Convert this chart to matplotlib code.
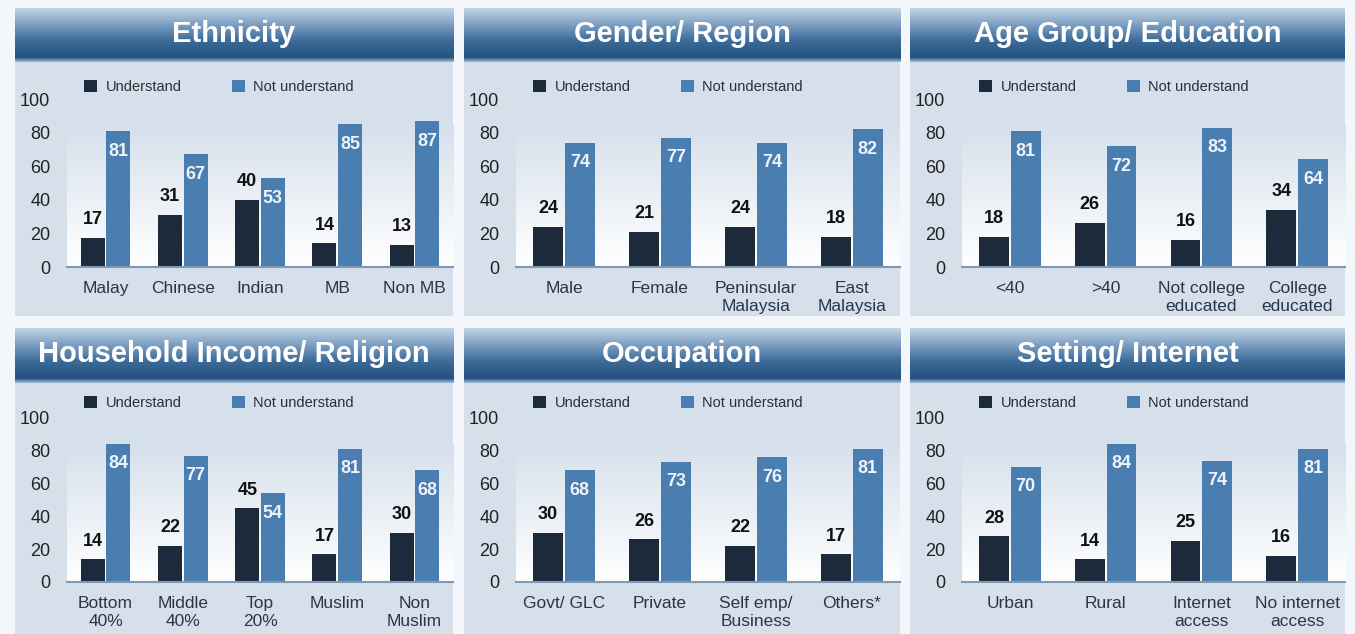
import numpy as np
import matplotlib.pyplot as plt
from matplotlib.patches import Rectangle
from matplotlib.colors import LinearSegmentedColormap

plt.rcParams['font.family'] = ['Liberation Sans', 'DejaVu Sans']

# data
titles = ["Ethnicity", "Gender/ Region", "Age Group/ Education",
          "Household Income/ Religion", "Occupation", "Setting/ Internet"]

eth_cats = ["Malay", "Chinese", "Indian", "MB", "Non MB"]
eth_under = [17, 31, 40, 14, 13]
eth_not = [81, 67, 53, 85, 87]

gen_cats = ["Male", "Female", "Peninsular\nMalaysia", "East\nMalaysia"]
gen_under = [24, 21, 24, 18]
gen_not = [74, 77, 74, 82]

age_cats = ["<40", ">40", "Not college\neducated", "College\neducated"]
age_under = [18, 26, 16, 34]
age_not = [81, 72, 83, 64]

inc_cats = ["Bottom\n40%", "Middle\n40%", "Top\n20%", "Muslim", "Non\nMuslim"]
inc_under = [14, 22, 45, 17, 30]
inc_not = [84, 77, 54, 81, 68]

occ_cats = ["Govt/ GLC", "Private", "Self emp/\nBusiness", "Others*"]
occ_under = [30, 26, 22, 17]
occ_not = [68, 73, 76, 81]

set_cats = ["Urban", "Rural", "Internet\naccess", "No internet\naccess"]
set_under = [28, 14, 25, 16]
set_not = [70, 84, 74, 81]

panels = [
    (eth_cats, eth_under, eth_not),
    (gen_cats, gen_under, gen_not),
    (age_cats, age_under, age_not),
    (inc_cats, inc_under, inc_not),
    (occ_cats, occ_under, occ_not),
    (set_cats, set_under, set_not),
]

W, H = 1355, 634
fig = plt.figure(figsize=(W / 100, H / 100), dpi=100)
fig.patch.set_facecolor('#f3f6fb')


def rect(x0, y0, x1, y1):
    # pixel box (top-left origin) -> figure fraction
    return [x0 / W, 1 - y1 / H, (x1 - x0) / W, (y1 - y0) / H]


dark = '#1c2a3c'
light = '#4a7db0'
panel_bg = '#d6e0eb'

banner_cmap = LinearSegmentedColormap.from_list(
    'banner', [(0, '#c4d4e5'), (0.3, '#7d9fc2'), (0.6, '#3d6c9a'),
               (0.92, '#24517e'), (1.0, '#9fbad6')])
area_cmap = LinearSegmentedColormap.from_list('area', ['#ffffff', panel_bg])

cols = [(15, 453), (464, 900), (910, 1345)]
# panel top, panel bottom, banner bottom, legend y, y for 100, y for 0
rows = [(8, 316, 62, 87, 99, 267), (328, 640, 383, 403, 418, 582)]

for i, (cats, under, notu) in enumerate(panels):
    x0, x1 = cols[i % 3]
    top, bottom, bbot, leg_y, y100, y0 = rows[i // 3]

    fig.add_artist(Rectangle((x0 / W, 1 - bottom / H), (x1 - x0) / W, (bottom - top) / H,
                             transform=fig.transFigure, facecolor=panel_bg,
                             edgecolor='none', zorder=0))

    # title banner
    bax = fig.add_axes(rect(x0, top, x1, bbot))
    grad = np.linspace(0, 1, 100).reshape(-1, 1)
    bax.imshow(grad, aspect='auto', cmap=banner_cmap, extent=(0, 1, 1, 0))
    bax.set_axis_off()
    bax.text(0.5, 0.52, titles[i], ha='center', va='center', color='white',
             fontsize=21, fontweight='bold', transform=bax.transAxes)

    # bar chart
    ax = fig.add_axes(rect(x0 + 52, y100, x1, y0))
    ax.set_facecolor('none')
    x = np.arange(len(cats))
    ax.set_xlim(-0.5, len(cats) - 0.5)
    ax.set_ylim(0, 100)
    ax.imshow(np.linspace(0, 1, 100).reshape(-1, 1), aspect='auto', cmap=area_cmap,
              origin='lower', extent=(-0.5, len(cats) - 0.5, 0, 84), zorder=0)

    w = 0.31
    b1 = ax.bar(x - 0.165, under, w, color=dark, label='Understand', zorder=2)
    b2 = ax.bar(x + 0.165, notu, w, color=light, label='Not understand', zorder=2)
    for xi, u, n in zip(x, under, notu):
        ax.text(xi - 0.165, u + 11, str(u), ha='center', va='center',
                fontsize=13, fontweight='bold', color='#111111', zorder=3)
        ax.text(xi + 0.165, n - 12, str(n), ha='center', va='center',
                fontsize=13, fontweight='bold', color='#eef4fb', zorder=3)

    ax.set_xticks(x)
    ax.set_xticklabels(cats, fontsize=12.5, color='#2a3646', linespacing=1.3)
    ax.set_yticks(np.arange(0, 101, 20))
    ax.tick_params(axis='both', length=0)
    ax.tick_params(axis='x', pad=10)
    ax.tick_params(axis='y', pad=12, labelcolor='#222222', labelsize=13)
    for s in ['left', 'right', 'top']:
        ax.spines[s].set_visible(False)
    ax.spines['bottom'].set_color('#7f98b3')
    ax.spines['bottom'].set_linewidth(1.5)

    ax.legend(handles=[b1, b2], ncol=2, frameon=False, fontsize=10.5,
              loc='center left', bbox_to_anchor=((x0 + 56) / W, 1 - leg_y / H),
              bbox_transform=fig.transFigure, handlelength=0.9, handleheight=0.9,
              handletextpad=0.6, columnspacing=3.4, labelcolor='#2a2f38')

fig.savefig('out.png', dpi=100, facecolor=fig.get_facecolor())
